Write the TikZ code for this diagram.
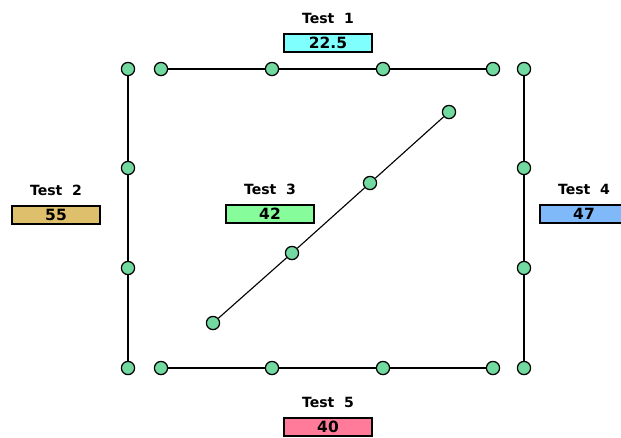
\documentclass[tikz,border=0pt]{standalone}
\usepackage{fontspec}
\setmainfont{DejaVu Sans}
\usetikzlibrary{positioning}
\definecolor{dotgreen}{HTML}{72D9A0}
\definecolor{cyanbox}{HTML}{80FFFF}
\definecolor{goldbox}{HTML}{DDBF6C}
\definecolor{greenbox}{HTML}{86FC9A}
\definecolor{bluebox}{HTML}{80B9FA}
\definecolor{pinkbox}{HTML}{FF7B99}

\begin{document}
\begin{tikzpicture}[x=0.025cm, y=-0.025cm, node distance=0.2cm,
	dot/.style={circle, draw, fill=dotgreen, line width=0.9pt, inner sep=0pt, minimum size=0.33cm},
	valbox/.style={draw, line width=0.8pt, minimum width=2.2cm, minimum height=0.45cm, inner sep=0pt, font=\fontsize{11}{12}\selectfont\bfseries},
	ttl/.style={font=\normalsize\bfseries, inner sep=1pt}]
			\useasboundingbox (0,0) rectangle (621,437);
			
			% top and bottom rows
			\foreach \x [count=\i] in {161,272,383,493} {
				\node[dot] (t\i) at (\x,69) {};
				\node[dot] (b\i) at (\x,368) {};
			}
			% left and right columns
			\foreach \y [count=\i] in {69,168,268,368} {
				\node[dot] (l\i) at (128,\y) {};
				\node[dot] (r\i) at (524,\y) {};
			}
			% diagonal
			\node[dot] (d1) at (213,323) {};
			\node[dot] (d2) at (292,253) {};
			\node[dot] (d3) at (370,183) {};
			\node[dot] (d4) at (449,112) {};
			
			\draw[line width=0.8pt] (t1) -- (t2) -- (t3) -- (t4);
			\draw[line width=0.8pt] (b1) -- (b2) -- (b3) -- (b4);
			\draw[line width=0.8pt] (l1) -- (l2) -- (l3) -- (l4);
			\draw[line width=0.8pt] (r1) -- (r2) -- (r3) -- (r4);
			\draw[line width=0.8pt] (d1) -- (d2) -- (d3) -- (d4);
			
			% labels and values
			\node[valbox, fill=cyanbox] (v1) at (328,43) {22.5};
			\node[ttl, above=of v1] (n1) {Test\ \ 1};
			\node[valbox, fill=goldbox] (v2) at (56,215) {55};
			\node[ttl, above=of v2] (n2) {Test\ \ 2};
			\node[valbox, fill=greenbox] (v3) at (270,214) {42};
			\node[ttl, above=of v3] (n3) {Test\ \ 3};
			\node[valbox, fill=bluebox] (v4) at (584,214) {47};
			\node[ttl, above=of v4] (n4) {Test\ \ 4};
			\node[valbox, fill=pinkbox] (v5) at (328,427) {40};
			\node[ttl, above=of v5] (n5) {Test\ \ 5};
			\end{tikzpicture}
\end{document}
